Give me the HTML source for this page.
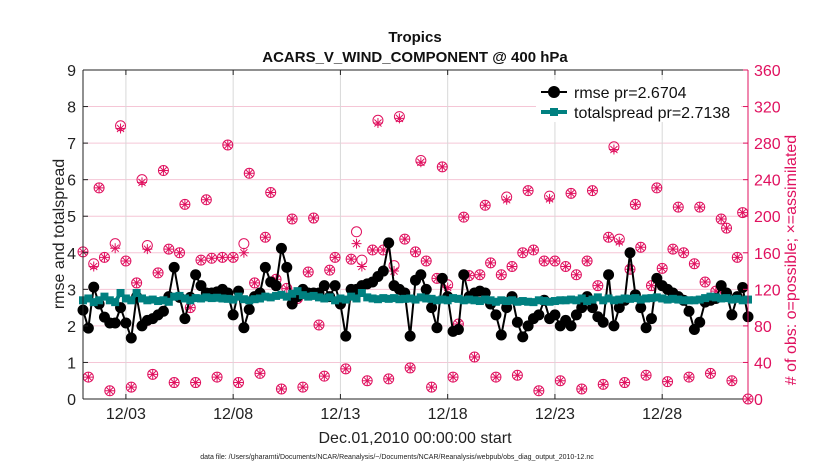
<!DOCTYPE html>
<html><head><meta charset="utf-8"><style>
body{margin:0;background:#fff;}
svg{display:block;font-family:"Liberation Sans",Arial,sans-serif;}
</style></head><body>
<svg id="c" width="830" height="470" viewBox="0 0 830 470"></svg>
<script>
const possible=[161,24,148,231,155,9,170,299,151,13,127,240,168,27,138,250,164,18,160,213,100,18,152,218,154,24,155,278,155,18,170,247,127,28,177,226,131,11,121,197,110,13,139,198,81,25,141,155,104,33,153,183,152,20,163,305,163,22,146,309,175,34,161,261,151,13,132,254,125,24,82,199,135,46,136,212,149,24,136,221,145,26,160,228,163,9,151,222,151,20,145,225,136,11,151,228,124,16,177,276,175,18,142,213,166,26,124,231,143,19,164,210,160,24,148,210,128,28,118,197,187,20,155,204,0];
const assimilated=[161,24,145,231,155,9,165,296,151,13,127,237,164,27,138,250,164,18,160,213,100,18,152,218,154,24,155,278,155,18,160,247,127,28,177,226,131,11,121,197,110,13,139,198,81,25,141,155,104,33,153,170,145,20,163,302,163,22,140,307,175,34,161,259,151,13,132,254,122,24,82,199,135,46,136,212,149,24,136,218,145,26,160,228,163,9,151,219,151,20,145,225,136,11,151,228,124,16,177,273,172,18,142,213,166,26,124,231,143,19,164,210,160,24,148,210,128,28,118,197,187,20,155,204,0];
const rmse=[2.43,1.94,3.06,2.6,2.24,2.08,2.08,2.5,2.08,1.67,2.8,2.0,2.15,2.2,2.3,2.4,2.8,3.6,2.78,2.2,2.78,3.4,3.1,2.9,2.9,2.93,3.0,2.9,2.3,2.95,1.95,2.45,2.8,2.9,3.6,3.2,3.1,4.12,3.6,2.6,2.8,3.0,2.9,2.9,2.9,3.1,2.8,3.1,2.6,1.72,3.0,3.0,3.1,3.15,3.2,3.35,3.5,4.27,3.1,3.0,2.9,1.72,3.25,3.4,3.0,2.5,1.95,3.3,2.8,1.85,1.9,3.4,2.8,2.9,2.95,2.9,2.6,2.3,1.75,2.5,2.8,2.1,1.7,2.0,2.2,2.3,2.7,2.2,2.3,2.0,2.15,2.0,2.3,2.5,2.8,2.5,2.25,2.1,3.4,2.0,2.5,2.7,4.0,2.85,2.5,1.95,2.2,3.3,3.1,3.0,2.9,2.8,2.7,2.4,1.9,2.1,2.65,2.7,2.75,3.1,2.9,2.3,2.8,3.05,2.25];
const spread=[2.7,2.75,2.65,2.7,2.8,2.7,2.65,2.9,2.75,2.7,2.9,2.75,2.7,2.72,2.68,2.7,2.66,2.8,2.82,2.75,2.7,2.76,2.75,2.78,2.76,2.77,2.75,2.74,2.72,2.8,2.73,2.7,2.73,2.75,2.8,2.78,2.82,2.85,2.8,2.88,2.95,2.84,2.8,2.82,2.78,2.75,2.78,2.7,2.75,2.72,2.8,2.75,2.9,2.78,2.75,2.73,2.76,2.74,2.76,2.73,2.74,2.75,2.72,2.78,2.75,2.74,2.7,2.72,2.7,2.76,2.74,2.7,2.72,2.7,2.68,2.72,2.7,2.66,2.7,2.68,2.7,2.66,2.68,2.66,2.65,2.7,2.68,2.66,2.68,2.7,2.7,2.72,2.7,2.75,2.68,2.72,2.78,2.7,2.75,2.7,2.72,2.75,2.74,2.76,2.72,2.75,2.76,2.78,2.75,2.72,2.74,2.72,2.7,2.7,2.7,2.72,2.76,2.8,2.78,2.75,2.76,2.72,2.74,2.7,2.72];
const xTickDays=[2,7,12,17,22,27];
const xTickLabels=["12/03","12/08","12/13","12/18","12/23","12/28"];
const yLeftTicks=[0,1,2,3,4,5,6,7,8,9];
const yRightTicks=[0,40,80,120,160,200,240,280,320,360];

const L=83,R=748,T=70,B=399,PINK="#e0115f",TEAL="#008080";
const svg=document.getElementById('c');
const NS="http://www.w3.org/2000/svg";
function mk(tag,attrs,parent){const e=document.createElementNS(NS,tag);for(const k in attrs)e.setAttribute(k,attrs[k]);(parent||svg).appendChild(e);return e;}
const xDay=d=>L+(d/31)*(R-L);
const xIdx=i=>xDay(i*0.25);
const yL=v=>B-(v/9)*(B-T);
const yR=v=>B-(v/360)*(B-T);

let g=mk('g',{});


yRightTicks.forEach(v=>{if(v>0&&v<360)mk('line',{x1:L,x2:R,y1:yR(v),y2:yR(v),stroke:"#f5c6d6","stroke-width":1},g);});
xTickDays.forEach(d=>mk('line',{x1:xDay(d),x2:xDay(d),y1:T,y2:B,stroke:"#d8d8d8","stroke-width":1},g));

let og=mk('g',{fill:"none",stroke:PINK,"stroke-width":1});


possible.forEach((v,i)=>{const c=mk('circle',{cx:xIdx(i),cy:yR(v),r:5},og);

});
let ag=mk('g',{fill:"none",stroke:PINK,"stroke-width":1});


assimilated.forEach((v,i)=>{const x=xIdx(i),y=yR(v);let d="";
for(let k=0;k<4;k++){const a=k*Math.PI/4,dx=5*Math.cos(a),dy=5*Math.sin(a);d+=`M${x-dx},${y-dy}L${x+dx},${y+dy}`;}
const p=mk('path',{d:d},ag);

});

let rg=mk('g',{});


mk('polyline',{points:rmse.map((v,i)=>xIdx(i)+","+yL(v)).join(" "),fill:"none",stroke:"#000","stroke-width":2},rg);
rmse.forEach((v,i)=>{const c=mk('circle',{cx:xIdx(i),cy:yL(v),r:5.5,fill:"#000"},rg);

});
let sg=mk('g',{});


mk('polyline',{points:spread.map((v,i)=>xIdx(i)+","+yL(v)).join(" "),fill:"none",stroke:TEAL,"stroke-width":4},sg);
spread.forEach((v,i)=>{const r=mk('rect',{x:xIdx(i)-4,y:yL(v)-4,width:8,height:8,fill:TEAL},sg);

});

let ax=mk('g',{});


mk('line',{x1:L,x2:R,y1:T,y2:T,stroke:"#222","stroke-width":1},ax);
mk('line',{x1:L,x2:R,y1:B,y2:B,stroke:"#222","stroke-width":1},ax);
mk('line',{x1:L,x2:L,y1:T,y2:B,stroke:"#222","stroke-width":1},ax);
mk('line',{x1:R,x2:R,y1:T,y2:B,stroke:PINK,"stroke-width":1},ax);
yLeftTicks.forEach(v=>{const y=yL(v);mk('line',{x1:L,x2:L+5,y1:y,y2:y,stroke:"#222"},ax);
const t=mk('text',{x:L-7,y:y+6,"text-anchor":"end","font-size":16,fill:"#222"},ax);t.textContent=v;

});
yRightTicks.forEach(v=>{const y=yR(v);mk('line',{x1:R-5,x2:R,y1:y,y2:y,stroke:PINK},ax);
const t=mk('text',{x:R+6,y:y+6,"font-size":16,fill:PINK},ax);t.textContent=v;

});
xTickDays.forEach((d,i)=>{const x=xDay(d);mk('line',{x1:x,x2:x,y1:B,y2:B-5,stroke:"#222"},ax);mk('line',{x1:x,x2:x,y1:T,y2:T+5,stroke:"#222"},ax);
const t=mk('text',{x:x,y:B+20,"text-anchor":"middle","font-size":16,fill:"#222"},ax);t.textContent=xTickLabels[i];

});
</script>
<script>
(function(){
const svg=document.getElementById('c');
svg.insertAdjacentHTML('beforeend',`
<text x="415" y="42" text-anchor="middle" font-size="15" font-weight="bold" fill="#111">Tropics</text>
<text x="415" y="62" text-anchor="middle" font-size="15" font-weight="bold" fill="#111">ACARS_V_WIND_COMPONENT @ 400 hPa</text>
<text x="415" y="443" text-anchor="middle" font-size="16" fill="#222">Dec.01,2010 00:00:00 start</text>
<text x="397" y="459" text-anchor="middle" font-size="7" fill="#222">data file: /Users/gharamti/Documents/NCAR/Reanalysis/~/Documents/NCAR/Reanalysis/webpub/obs_diag_output_2010-12.nc</text>
<text transform="translate(64,234) rotate(-90)" text-anchor="middle" font-size="16" fill="#222">rmse and totalspread</text>
<text transform="translate(796,260) rotate(-90)" text-anchor="middle" font-size="16" fill="#e0115f"># of obs: o=possible; ×=assimilated</text>
<g>
<rect x="536" y="80" width="205" height="42" fill="#fff"/>
<line x1="541" x2="567" y1="92" y2="92" stroke="#000" stroke-width="2"/>
<circle cx="554" cy="92" r="6" fill="#000"/>
<text x="574" y="98" font-size="16" fill="#111">rmse pr=2.6704</text>
<line x1="541" x2="567" y1="112" y2="112" stroke="#008080" stroke-width="4"/>
<rect x="550" y="108" width="8" height="8" fill="#008080"/>
<text x="574" y="118" font-size="16" fill="#111">totalspread pr=2.7138</text>
</g>`);
})();
</script>
</body></html>
